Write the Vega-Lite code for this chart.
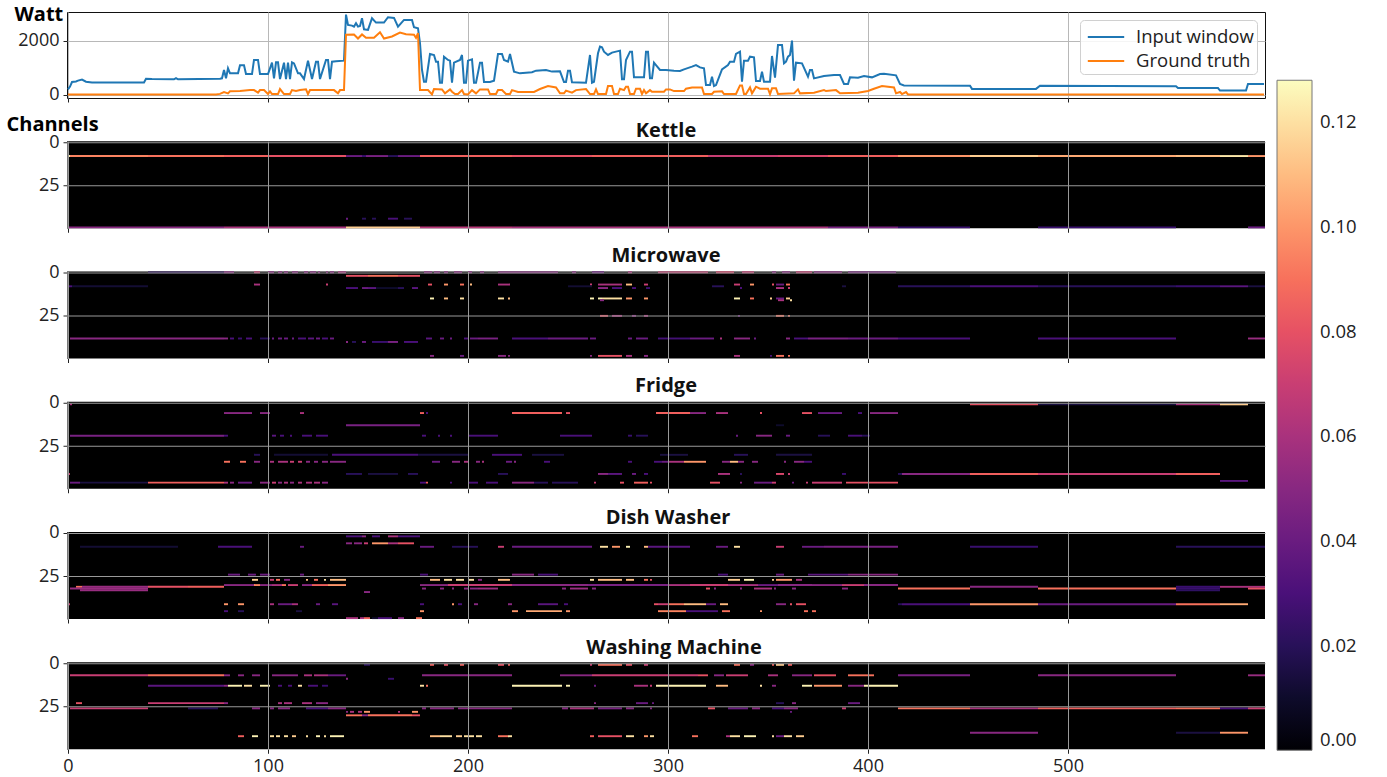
{"$schema":"https://vega.github.io/schema/vega-lite/v6.json","background":"white","padding":{"left":6,"top":3,"right":0,"bottom":24},"bounds":"flush","spacing":43.25,"config":{"font":"Open Sans","axis":{"labelFont":"Open Sans","labelFontSize":18,"labelColor":"#222","titleFont":"Open Sans","titleFontSize":20,"titleFontWeight":"bold","tickColor":"#222","tickSize":4,"labelPadding":4,"labelFlush":false,"format":"d"},"title":{"font":"Open Sans","fontSize":20,"fontWeight":"bold","color":"#111","offset":5},"legend":{"labelFont":"Open Sans","labelFontSize":18.5,"labelColor":"#222"}},"datasets":{"power":[
{"s":"Input window","x":0,"w":200},{"s":"Input window","x":1,"w":300},{"s":"Input window","x":2,"w":470},{"s":"Input window","x":4,"w":490},{"s":"Input window","x":5,"w":520},{"s":"Input window","x":7,"w":560},{"s":"Input window","x":9,"w":480},{"s":"Input window","x":12,"w":450},{"s":"Input window","x":38,"w":450},{"s":"Input window","x":39,"w":590},{"s":"Input window","x":42,"w":580},{"s":"Input window","x":53,"w":570},{"s":"Input window","x":54,"w":610},{"s":"Input window","x":55,"w":570},{"s":"Input window","x":76,"w":590},{"s":"Input window","x":77,"w":605},{"s":"Input window","x":78,"w":915},{"s":"Input window","x":79,"w":605},{"s":"Input window","x":80,"w":975},{"s":"Input window","x":81,"w":790},{"s":"Input window","x":85,"w":790},{"s":"Input window","x":86,"w":1087},{"s":"Input window","x":88,"w":1087},{"s":"Input window","x":89,"w":765},{"s":"Input window","x":92,"w":765},{"s":"Input window","x":93,"w":1285},{"s":"Input window","x":95,"w":1285},{"s":"Input window","x":96,"w":765},{"s":"Input window","x":100,"w":765},{"s":"Input window","x":102,"w":1185},{"s":"Input window","x":103,"w":605},{"s":"Input window","x":104,"w":1198},{"s":"Input window","x":105,"w":1198},{"s":"Input window","x":106,"w":580},{"s":"Input window","x":108,"w":1185},{"s":"Input window","x":109,"w":580},{"s":"Input window","x":110,"w":1185},{"s":"Input window","x":111,"w":580},{"s":"Input window","x":112,"w":1198},{"s":"Input window","x":113,"w":1160},{"s":"Input window","x":115,"w":790},{"s":"Input window","x":116,"w":790},{"s":"Input window","x":118,"w":580},{"s":"Input window","x":120,"w":1260},{"s":"Input window","x":122,"w":580},{"s":"Input window","x":124,"w":1222},{"s":"Input window","x":125,"w":1222},{"s":"Input window","x":126,"w":580},{"s":"Input window","x":129,"w":1285},{"s":"Input window","x":130,"w":1285},{"s":"Input window","x":131,"w":580},{"s":"Input window","x":132,"w":1222},{"s":"Input window","x":134,"w":1240},{"s":"Input window","x":138,"w":1260},{"s":"Input window","x":139,"w":2964},{"s":"Input window","x":140,"w":2580},{"s":"Input window","x":142,"w":2556},{"s":"Input window","x":143,"w":2520},{"s":"Input window","x":144,"w":2643},{"s":"Input window","x":145,"w":2520},{"s":"Input window","x":146,"w":2544},{"s":"Input window","x":147,"w":2828},{"s":"Input window","x":148,"w":2420},{"s":"Input window","x":150,"w":2396},{"s":"Input window","x":152,"w":2828},{"s":"Input window","x":154,"w":2668},{"s":"Input window","x":158,"w":2668},{"s":"Input window","x":160,"w":2865},{"s":"Input window","x":163,"w":2840},{"s":"Input window","x":165,"w":2520},{"s":"Input window","x":168,"w":2766},{"s":"Input window","x":172,"w":2766},{"s":"Input window","x":173,"w":2495},{"s":"Input window","x":175,"w":2458},{"s":"Input window","x":176,"w":1902},{"s":"Input window","x":177,"w":914},{"s":"Input window","x":178,"w":480},{"s":"Input window","x":179,"w":480},{"s":"Input window","x":181,"w":1507},{"s":"Input window","x":183,"w":1470},{"s":"Input window","x":184,"w":1222},{"s":"Input window","x":185,"w":1222},{"s":"Input window","x":186,"w":445},{"s":"Input window","x":187,"w":445},{"s":"Input window","x":188,"w":1408},{"s":"Input window","x":190,"w":1285},{"s":"Input window","x":191,"w":1260},{"s":"Input window","x":192,"w":445},{"s":"Input window","x":193,"w":1185},{"s":"Input window","x":196,"w":1285},{"s":"Input window","x":197,"w":1470},{"s":"Input window","x":198,"w":445},{"s":"Input window","x":199,"w":445},{"s":"Input window","x":200,"w":1260},{"s":"Input window","x":202,"w":1310},{"s":"Input window","x":203,"w":445},{"s":"Input window","x":204,"w":445},{"s":"Input window","x":206,"w":1185},{"s":"Input window","x":207,"w":1185},{"s":"Input window","x":208,"w":470},{"s":"Input window","x":211,"w":470},{"s":"Input window","x":213,"w":520},{"s":"Input window","x":215,"w":1507},{"s":"Input window","x":217,"w":1507},{"s":"Input window","x":218,"w":1285},{"s":"Input window","x":220,"w":1222},{"s":"Input window","x":221,"w":1507},{"s":"Input window","x":223,"w":855},{"s":"Input window","x":226,"w":790},{"s":"Input window","x":232,"w":830},{"s":"Input window","x":234,"w":890},{"s":"Input window","x":239,"w":914},{"s":"Input window","x":242,"w":855},{"s":"Input window","x":246,"w":865},{"s":"Input window","x":248,"w":470},{"s":"Input window","x":249,"w":470},{"s":"Input window","x":250,"w":890},{"s":"Input window","x":251,"w":890},{"s":"Input window","x":252,"w":457},{"s":"Input window","x":259,"w":445},{"s":"Input window","x":261,"w":1470},{"s":"Input window","x":262,"w":445},{"s":"Input window","x":263,"w":480},{"s":"Input window","x":265,"w":1532},{"s":"Input window","x":266,"w":1778},{"s":"Input window","x":267,"w":1753},{"s":"Input window","x":268,"w":1590},{"s":"Input window","x":270,"w":1470},{"s":"Input window","x":272,"w":1556},{"s":"Input window","x":274,"w":1593},{"s":"Input window","x":276,"w":1630},{"s":"Input window","x":277,"w":570},{"s":"Input window","x":278,"w":570},{"s":"Input window","x":279,"w":1285},{"s":"Input window","x":281,"w":1593},{"s":"Input window","x":282,"w":1593},{"s":"Input window","x":283,"w":642},{"s":"Input window","x":288,"w":642},{"s":"Input window","x":289,"w":1593},{"s":"Input window","x":290,"w":1593},{"s":"Input window","x":291,"w":605},{"s":"Input window","x":292,"w":605},{"s":"Input window","x":293,"w":1185},{"s":"Input window","x":294,"w":1098},{"s":"Input window","x":296,"w":914},{"s":"Input window","x":299,"w":914},{"s":"Input window","x":303,"w":890},{"s":"Input window","x":306,"w":878},{"s":"Input window","x":308,"w":938},{"s":"Input window","x":312,"w":1037},{"s":"Input window","x":314,"w":1098},{"s":"Input window","x":316,"w":1012},{"s":"Input window","x":318,"w":975},{"s":"Input window","x":319,"w":358},{"s":"Input window","x":321,"w":358},{"s":"Input window","x":322,"w":667},{"s":"Input window","x":323,"w":320},{"s":"Input window","x":324,"w":358},{"s":"Input window","x":327,"w":938},{"s":"Input window","x":330,"w":1098},{"s":"Input window","x":331,"w":1222},{"s":"Input window","x":333,"w":1222},{"s":"Input window","x":334,"w":1507},{"s":"Input window","x":336,"w":1593},{"s":"Input window","x":337,"w":482},{"s":"Input window","x":338,"w":1260},{"s":"Input window","x":340,"w":1260},{"s":"Input window","x":341,"w":1408},{"s":"Input window","x":343,"w":1383},{"s":"Input window","x":344,"w":507},{"s":"Input window","x":346,"w":507},{"s":"Input window","x":347,"w":852},{"s":"Input window","x":348,"w":482},{"s":"Input window","x":351,"w":482},{"s":"Input window","x":352,"w":1432},{"s":"Input window","x":353.5,"w":630},{"s":"Input window","x":355,"w":1840},{"s":"Input window","x":357,"w":1840},{"s":"Input window","x":358,"w":1160},{"s":"Input window","x":359,"w":1222},{"s":"Input window","x":360,"w":1408},{"s":"Input window","x":361,"w":1470},{"s":"Input window","x":362,"w":2000},{"s":"Input window","x":363,"w":520},{"s":"Input window","x":364,"w":1185},{"s":"Input window","x":367,"w":1160},{"s":"Input window","x":370,"w":667},{"s":"Input window","x":371,"w":914},{"s":"Input window","x":372,"w":914},{"s":"Input window","x":373,"w":605},{"s":"Input window","x":378,"w":692},{"s":"Input window","x":383,"w":730},{"s":"Input window","x":386,"w":730},{"s":"Input window","x":388,"w":395},{"s":"Input window","x":390,"w":395},{"s":"Input window","x":391,"w":642},{"s":"Input window","x":395,"w":630},{"s":"Input window","x":398,"w":692},{"s":"Input window","x":402,"w":642},{"s":"Input window","x":406,"w":765},{"s":"Input window","x":408,"w":778},{"s":"Input window","x":414,"w":716},{"s":"Input window","x":416,"w":395},{"s":"Input window","x":418,"w":345},{"s":"Input window","x":451,"w":335},{"s":"Input window","x":452,"w":215},{"s":"Input window","x":484,"w":215},{"s":"Input window","x":486,"w":330},{"s":"Input window","x":554,"w":315},{"s":"Input window","x":555,"w":245},{"s":"Input window","x":575,"w":245},{"s":"Input window","x":576,"w":155},{"s":"Input window","x":589,"w":155},{"s":"Input window","x":590,"w":400},{"s":"Input window","x":598,"w":400},
{"s":"Ground truth","x":0,"w":10},{"s":"Ground truth","x":74,"w":10},{"s":"Ground truth","x":76,"w":30},{"s":"Ground truth","x":78,"w":95},{"s":"Ground truth","x":80,"w":50},{"s":"Ground truth","x":81,"w":125},{"s":"Ground truth","x":86,"w":135},{"s":"Ground truth","x":91,"w":170},{"s":"Ground truth","x":93,"w":170},{"s":"Ground truth","x":95,"w":75},{"s":"Ground truth","x":96,"w":170},{"s":"Ground truth","x":98,"w":170},{"s":"Ground truth","x":100,"w":25},{"s":"Ground truth","x":101,"w":125},{"s":"Ground truth","x":102,"w":25},{"s":"Ground truth","x":105,"w":25},{"s":"Ground truth","x":106,"w":210},{"s":"Ground truth","x":108,"w":25},{"s":"Ground truth","x":111,"w":25},{"s":"Ground truth","x":112,"w":170},{"s":"Ground truth","x":114,"w":135},{"s":"Ground truth","x":116,"w":170},{"s":"Ground truth","x":119,"w":197},{"s":"Ground truth","x":120,"w":25},{"s":"Ground truth","x":121,"w":170},{"s":"Ground truth","x":133,"w":170},{"s":"Ground truth","x":135,"w":50},{"s":"Ground truth","x":136,"w":170},{"s":"Ground truth","x":138,"w":170},{"s":"Ground truth","x":139,"w":2217},{"s":"Ground truth","x":143,"w":2230},{"s":"Ground truth","x":145,"w":2080},{"s":"Ground truth","x":147,"w":2230},{"s":"Ground truth","x":149,"w":2105},{"s":"Ground truth","x":153,"w":2105},{"s":"Ground truth","x":156,"w":2310},{"s":"Ground truth","x":158,"w":2080},{"s":"Ground truth","x":162,"w":2155},{"s":"Ground truth","x":166,"w":2300},{"s":"Ground truth","x":169,"w":2240},{"s":"Ground truth","x":173,"w":2217},{"s":"Ground truth","x":174,"w":2100},{"s":"Ground truth","x":175,"w":2280},{"s":"Ground truth","x":176,"w":170},{"s":"Ground truth","x":180,"w":170},{"s":"Ground truth","x":182,"w":10},{"s":"Ground truth","x":183,"w":210},{"s":"Ground truth","x":187,"w":197},{"s":"Ground truth","x":188.5,"w":50},{"s":"Ground truth","x":191,"w":197},{"s":"Ground truth","x":192,"w":110},{"s":"Ground truth","x":193.5,"w":25},{"s":"Ground truth","x":195,"w":25},{"s":"Ground truth","x":197,"w":170},{"s":"Ground truth","x":198,"w":25},{"s":"Ground truth","x":200,"w":10},{"s":"Ground truth","x":202,"w":170},{"s":"Ground truth","x":204,"w":50},{"s":"Ground truth","x":206,"w":197},{"s":"Ground truth","x":210,"w":197},{"s":"Ground truth","x":211,"w":25},{"s":"Ground truth","x":214,"w":25},{"s":"Ground truth","x":215,"w":170},{"s":"Ground truth","x":217,"w":170},{"s":"Ground truth","x":219,"w":25},{"s":"Ground truth","x":221,"w":25},{"s":"Ground truth","x":222,"w":170},{"s":"Ground truth","x":225,"w":100},{"s":"Ground truth","x":233,"w":100},{"s":"Ground truth","x":236,"w":210},{"s":"Ground truth","x":240,"w":320},{"s":"Ground truth","x":244,"w":270},{"s":"Ground truth","x":246,"w":50},{"s":"Ground truth","x":248,"w":50},{"s":"Ground truth","x":249,"w":150},{"s":"Ground truth","x":252,"w":75},{"s":"Ground truth","x":254,"w":170},{"s":"Ground truth","x":259,"w":210},{"s":"Ground truth","x":261,"w":25},{"s":"Ground truth","x":263,"w":25},{"s":"Ground truth","x":264,"w":197},{"s":"Ground truth","x":265,"w":25},{"s":"Ground truth","x":269,"w":25},{"s":"Ground truth","x":270,"w":320},{"s":"Ground truth","x":272,"w":320},{"s":"Ground truth","x":273,"w":25},{"s":"Ground truth","x":275,"w":25},{"s":"Ground truth","x":276,"w":222},{"s":"Ground truth","x":278,"w":170},{"s":"Ground truth","x":279,"w":296},{"s":"Ground truth","x":280,"w":296},{"s":"Ground truth","x":281,"w":25},{"s":"Ground truth","x":283,"w":25},{"s":"Ground truth","x":284,"w":222},{"s":"Ground truth","x":286,"w":222},{"s":"Ground truth","x":287,"w":25},{"s":"Ground truth","x":288,"w":170},{"s":"Ground truth","x":289,"w":50},{"s":"Ground truth","x":291,"w":170},{"s":"Ground truth","x":292,"w":110},{"s":"Ground truth","x":298,"w":110},{"s":"Ground truth","x":299,"w":197},{"s":"Ground truth","x":301,"w":197},{"s":"Ground truth","x":303,"w":135},{"s":"Ground truth","x":308,"w":135},{"s":"Ground truth","x":309,"w":222},{"s":"Ground truth","x":312,"w":270},{"s":"Ground truth","x":317,"w":270},{"s":"Ground truth","x":318,"w":25},{"s":"Ground truth","x":322,"w":25},{"s":"Ground truth","x":323,"w":110},{"s":"Ground truth","x":327,"w":125},{"s":"Ground truth","x":328,"w":25},{"s":"Ground truth","x":334,"w":25},{"s":"Ground truth","x":336,"w":345},{"s":"Ground truth","x":337,"w":345},{"s":"Ground truth","x":338,"w":25},{"s":"Ground truth","x":339,"w":25},{"s":"Ground truth","x":341,"w":270},{"s":"Ground truth","x":342,"w":50},{"s":"Ground truth","x":343,"w":170},{"s":"Ground truth","x":344,"w":296},{"s":"Ground truth","x":346,"w":222},{"s":"Ground truth","x":350,"w":222},{"s":"Ground truth","x":351,"w":25},{"s":"Ground truth","x":352,"w":235},{"s":"Ground truth","x":354,"w":235},{"s":"Ground truth","x":355,"w":25},{"s":"Ground truth","x":363,"w":50},{"s":"Ground truth","x":365,"w":197},{"s":"Ground truth","x":366,"w":50},{"s":"Ground truth","x":373,"w":75},{"s":"Ground truth","x":378,"w":170},{"s":"Ground truth","x":379,"w":135},{"s":"Ground truth","x":384,"w":170},{"s":"Ground truth","x":386,"w":50},{"s":"Ground truth","x":395,"w":75},{"s":"Ground truth","x":400,"w":135},{"s":"Ground truth","x":403,"w":222},{"s":"Ground truth","x":407,"w":320},{"s":"Ground truth","x":413,"w":270},{"s":"Ground truth","x":414,"w":50},{"s":"Ground truth","x":416,"w":100},{"s":"Ground truth","x":417,"w":25},{"s":"Ground truth","x":419,"w":100},{"s":"Ground truth","x":420,"w":10},{"s":"Ground truth","x":598,"w":10}],
"kettle":[{"c":8,"a":0,"b":1,"v":0.122},{"c":8,"a":1,"b":40,"v":0.095},{"c":8,"a":40,"b":78,"v":0.09},{"c":8,"a":78,"b":100,"v":0.085},{"c":8,"a":100,"b":139,"v":0.08},{"c":8,"a":139,"b":147,"v":0.04},{"c":8,"a":147,"b":149,"v":0.025},{"c":8,"a":149,"b":160,"v":0.045},{"c":8,"a":160,"b":165,"v":0.02},{"c":8,"a":165,"b":176,"v":0.04},{"c":8,"a":176,"b":222,"v":0.085},{"c":8,"a":222,"b":262,"v":0.08},{"c":8,"a":262,"b":320,"v":0.085},{"c":8,"a":320,"b":355,"v":0.07},{"c":8,"a":355,"b":380,"v":0.075},{"c":8,"a":380,"b":415,"v":0.085},{"c":8,"a":415,"b":451,"v":0.1},{"c":8,"a":451,"b":485,"v":0.115},{"c":8,"a":485,"b":554,"v":0.105},{"c":8,"a":554,"b":576,"v":0.11},{"c":8,"a":576,"b":590,"v":0.122},{"c":8,"a":590,"b":598.5,"v":0.1},{"c":49,"a":0,"b":78,"v":0.05},{"c":49,"a":78,"b":139,"v":0.06},{"c":49,"a":139,"b":176,"v":0.115},{"c":49,"a":176,"b":222,"v":0.065},{"c":49,"a":222,"b":380,"v":0.06},{"c":49,"a":380,"b":415,"v":0.045},{"c":49,"a":415,"b":451,"v":0.025},{"c":49,"a":485,"b":554,"v":0.025},{"c":49,"a":590,"b":598.5,"v":0.04},{"c":44,"a":139,"b":140,"v":0.04},{"c":44,"a":147,"b":149,"v":0.02},{"c":44,"a":152,"b":154,"v":0.02},{"c":44,"a":160,"b":165,"v":0.03},{"c":44,"a":168,"b":172,"v":0.02}],
"microwave":[{"c":0,"a":40,"b":78,"v":0.02},{"c":0,"a":78,"b":83,"v":0.05},{"c":0,"a":93,"b":96,"v":0.07},{"c":0,"a":100,"b":103,"v":0.05},{"c":0,"a":105,"b":107,"v":0.05},{"c":0,"a":108,"b":110,"v":0.05},{"c":0,"a":112,"b":115,"v":0.05},{"c":0,"a":118,"b":120,"v":0.05},{"c":0,"a":121,"b":124,"v":0.05},{"c":0,"a":125,"b":126,"v":0.05},{"c":0,"a":129,"b":130,"v":0.05},{"c":0,"a":131,"b":133,"v":0.05},{"c":0,"a":135,"b":139,"v":0.06},{"c":0,"a":178,"b":182,"v":0.05},{"c":0,"a":183,"b":186,"v":0.05},{"c":0,"a":188,"b":190,"v":0.05},{"c":0,"a":193,"b":197,"v":0.05},{"c":0,"a":200,"b":202,"v":0.05},{"c":0,"a":206,"b":208,"v":0.05},{"c":0,"a":215,"b":245,"v":0.05},{"c":0,"a":252,"b":254,"v":0.05},{"c":0,"a":262,"b":268,"v":0.04},{"c":0,"a":280,"b":282,"v":0.06},{"c":0,"a":295,"b":320,"v":0.07},{"c":0,"a":324,"b":333,"v":0.075},{"c":0,"a":337,"b":343,"v":0.07},{"c":0,"a":352,"b":354,"v":0.05},{"c":0,"a":357,"b":361,"v":0.05},{"c":0,"a":364,"b":372,"v":0.07},{"c":0,"a":373,"b":387,"v":0.05},{"c":0,"a":390,"b":414,"v":0.045},{"c":2,"a":139,"b":150,"v":0.08},{"c":2,"a":150,"b":165,"v":0.09},{"c":2,"a":165,"b":176,"v":0.08},{"c":7,"a":93,"b":96,"v":0.06},{"c":7,"a":129,"b":130,"v":0.07},{"c":7,"a":180,"b":182,"v":0.08},{"c":7,"a":188,"b":190,"v":0.1},{"c":7,"a":196,"b":198,"v":0.09},{"c":7,"a":201,"b":202,"v":0.11},{"c":7,"a":215,"b":221,"v":0.06},{"c":7,"a":261,"b":262,"v":0.07},{"c":7,"a":265,"b":277,"v":0.06},{"c":7,"a":279,"b":282,"v":0.11},{"c":7,"a":288,"b":290,"v":0.07},{"c":7,"a":333,"b":336,"v":0.07},{"c":7,"a":341,"b":343,"v":0.1},{"c":7,"a":352,"b":353,"v":0.08},{"c":7,"a":354,"b":358,"v":0.04},{"c":7,"a":359,"b":361,"v":0.09},{"c":8,"a":0,"b":2,"v":0.03},{"c":8,"a":2,"b":40,"v":0.012},{"c":8,"a":250,"b":262,"v":0.012},{"c":8,"a":322,"b":328,"v":0.02},{"c":8,"a":387,"b":389,"v":0.015},{"c":8,"a":415,"b":451,"v":0.02},{"c":8,"a":451,"b":485,"v":0.03},{"c":8,"a":485,"b":554,"v":0.02},{"c":8,"a":554,"b":576,"v":0.025},{"c":8,"a":576,"b":590,"v":0.035},{"c":8,"a":590,"b":598.5,"v":0.015},{"c":9,"a":139,"b":145,"v":0.03},{"c":9,"a":147,"b":150,"v":0.04},{"c":9,"a":150,"b":154,"v":0.035},{"c":9,"a":154,"b":165,"v":0.01},{"c":9,"a":165,"b":168,"v":0.02},{"c":9,"a":172,"b":175,"v":0.035},{"c":9,"a":265,"b":270,"v":0.05},{"c":9,"a":272,"b":277,"v":0.03},{"c":9,"a":282,"b":284,"v":0.03},{"c":9,"a":289,"b":291,"v":0.025},{"c":9,"a":336,"b":337,"v":0.03},{"c":9,"a":354,"b":358,"v":0.06},{"c":9,"a":360,"b":361,"v":0.07},{"c":15,"a":181,"b":183,"v":0.125},{"c":15,"a":188,"b":190,"v":0.11},{"c":15,"a":196,"b":198,"v":0.12},{"c":15,"a":215,"b":218,"v":0.12},{"c":15,"a":220,"b":221,"v":0.11},{"c":15,"a":261,"b":263,"v":0.125},{"c":15,"a":265,"b":267,"v":0.125},{"c":15,"a":267,"b":277,"v":0.12},{"c":15,"a":279,"b":282,"v":0.1},{"c":15,"a":288,"b":290,"v":0.1},{"c":15,"a":333,"b":336,"v":0.125},{"c":15,"a":341,"b":343,"v":0.09},{"c":15,"a":351,"b":352,"v":0.115},{"c":15,"a":354,"b":358,"v":0.04},{"c":15,"a":359,"b":361,"v":0.115},{"c":16,"a":266,"b":268,"v":0.05},{"c":16,"a":355,"b":358,"v":0.06},{"c":16,"a":361,"b":362,"v":0.12},{"c":25,"a":266,"b":270,"v":0.08},{"c":25,"a":272,"b":277,"v":0.06},{"c":25,"a":282,"b":284,"v":0.05},{"c":25,"a":288,"b":290,"v":0.06},{"c":25,"a":335,"b":336,"v":0.04},{"c":25,"a":354,"b":358,"v":0.09},{"c":25,"a":360,"b":361,"v":0.09},{"c":38,"a":1,"b":78,"v":0.05},{"c":38,"a":78,"b":80,"v":0.05},{"c":38,"a":81,"b":83,"v":0.03},{"c":38,"a":85,"b":87,"v":0.025},{"c":38,"a":89,"b":92,"v":0.03},{"c":38,"a":96,"b":101,"v":0.02},{"c":38,"a":102,"b":103,"v":0.04},{"c":38,"a":105,"b":107,"v":0.04},{"c":38,"a":108,"b":110,"v":0.04},{"c":38,"a":112,"b":113,"v":0.04},{"c":38,"a":115,"b":119,"v":0.03},{"c":38,"a":120,"b":123,"v":0.035},{"c":38,"a":124,"b":126,"v":0.04},{"c":38,"a":127,"b":130,"v":0.03},{"c":38,"a":131,"b":133,"v":0.04},{"c":38,"a":179,"b":182,"v":0.035},{"c":38,"a":186,"b":188,"v":0.04},{"c":38,"a":191,"b":192,"v":0.04},{"c":38,"a":198,"b":200,"v":0.03},{"c":38,"a":201,"b":205,"v":0.04},{"c":38,"a":205,"b":215,"v":0.045},{"c":38,"a":222,"b":240,"v":0.03},{"c":38,"a":240,"b":260,"v":0.04},{"c":38,"a":261,"b":264,"v":0.04},{"c":38,"a":280,"b":282,"v":0.04},{"c":38,"a":284,"b":290,"v":0.04},{"c":38,"a":295,"b":311,"v":0.028},{"c":38,"a":311,"b":323,"v":0.04},{"c":38,"a":326,"b":327,"v":0.06},{"c":38,"a":333,"b":341,"v":0.05},{"c":38,"a":343,"b":344,"v":0.04},{"c":38,"a":359,"b":361,"v":0.05},{"c":38,"a":363,"b":370,"v":0.03},{"c":38,"a":370,"b":390,"v":0.045},{"c":38,"a":390,"b":415,"v":0.04},{"c":38,"a":415,"b":451,"v":0.03},{"c":38,"a":485,"b":554,"v":0.03},{"c":38,"a":590,"b":598.5,"v":0.055},{"c":40,"a":139,"b":140,"v":0.05},{"c":40,"a":142,"b":144,"v":0.02},{"c":40,"a":147,"b":149,"v":0.04},{"c":40,"a":152,"b":160,"v":0.025},{"c":40,"a":160,"b":165,"v":0.045},{"c":40,"a":168,"b":175,"v":0.03},{"c":48,"a":181,"b":183,"v":0.05},{"c":48,"a":196,"b":198,"v":0.04},{"c":48,"a":215,"b":219,"v":0.05},{"c":48,"a":220,"b":221,"v":0.05},{"c":48,"a":261,"b":262,"v":0.05},{"c":48,"a":265,"b":277,"v":0.08},{"c":48,"a":279,"b":282,"v":0.06},{"c":48,"a":288,"b":290,"v":0.05},{"c":48,"a":333,"b":336,"v":0.06},{"c":48,"a":351,"b":352,"v":0.03},{"c":48,"a":354,"b":358,"v":0.09},{"c":48,"a":360,"b":361,"v":0.09}],
"fridge":[{"c":1,"a":1,"b":2,"v":0.06},{"c":1,"a":451,"b":485,"v":0.08},{"c":1,"a":485,"b":554,"v":0.015},{"c":1,"a":554,"b":576,"v":0.06},{"c":1,"a":576,"b":590,"v":0.115},{"c":6,"a":78,"b":80,"v":0.05},{"c":6,"a":80,"b":92,"v":0.05},{"c":6,"a":96,"b":101,"v":0.05},{"c":6,"a":116,"b":118,"v":0.06},{"c":6,"a":176,"b":178,"v":0.085},{"c":6,"a":179,"b":180,"v":0.03},{"c":6,"a":222,"b":247,"v":0.085},{"c":6,"a":249,"b":251,"v":0.08},{"c":6,"a":294,"b":311,"v":0.085},{"c":6,"a":311,"b":319,"v":0.05},{"c":6,"a":324,"b":330,"v":0.06},{"c":6,"a":346,"b":347,"v":0.08},{"c":6,"a":367,"b":372,"v":0.08},{"c":6,"a":375,"b":387,"v":0.04},{"c":6,"a":395,"b":397,"v":0.03},{"c":6,"a":401,"b":415,"v":0.05},{"c":13,"a":139,"b":176,"v":0.045},{"c":13,"a":354,"b":358,"v":0.01},{"c":19,"a":1,"b":78,"v":0.045},{"c":19,"a":78,"b":80,"v":0.03},{"c":19,"a":102,"b":104,"v":0.035},{"c":19,"a":106,"b":108,"v":0.03},{"c":19,"a":111,"b":112,"v":0.03},{"c":19,"a":117,"b":122,"v":0.03},{"c":19,"a":124,"b":130,"v":0.03},{"c":19,"a":177,"b":179,"v":0.03},{"c":19,"a":185,"b":186,"v":0.03},{"c":19,"a":191,"b":192,"v":0.03},{"c":19,"a":200,"b":205,"v":0.03},{"c":19,"a":205,"b":215,"v":0.03},{"c":19,"a":246,"b":262,"v":0.03},{"c":19,"a":280,"b":282,"v":0.025},{"c":19,"a":284,"b":290,"v":0.02},{"c":19,"a":334,"b":335,"v":0.04},{"c":19,"a":344,"b":352,"v":0.05},{"c":19,"a":359,"b":361,"v":0.04},{"c":19,"a":375,"b":381,"v":0.02},{"c":19,"a":390,"b":397,"v":0.03},{"c":19,"a":397,"b":401,"v":0.02},{"c":30,"a":93,"b":96,"v":0.02},{"c":30,"a":103,"b":130,"v":0.012},{"c":30,"a":132,"b":175,"v":0.03},{"c":30,"a":175,"b":200,"v":0.015},{"c":30,"a":212,"b":227,"v":0.03},{"c":30,"a":232,"b":248,"v":0.015},{"c":30,"a":296,"b":310,"v":0.015},{"c":30,"a":333,"b":340,"v":0.02},{"c":30,"a":354,"b":372,"v":0.015},{"c":34,"a":78,"b":80,"v":0.09},{"c":34,"a":80,"b":81,"v":0.09},{"c":34,"a":86,"b":89,"v":0.09},{"c":34,"a":93,"b":96,"v":0.05},{"c":34,"a":101,"b":103,"v":0.06},{"c":34,"a":105,"b":110,"v":0.06},{"c":34,"a":111,"b":113,"v":0.07},{"c":34,"a":115,"b":117,"v":0.07},{"c":34,"a":119,"b":121,"v":0.05},{"c":34,"a":123,"b":125,"v":0.05},{"c":34,"a":127,"b":130,"v":0.05},{"c":34,"a":131,"b":139,"v":0.05},{"c":34,"a":182,"b":186,"v":0.04},{"c":34,"a":192,"b":196,"v":0.05},{"c":34,"a":198,"b":200,"v":0.06},{"c":34,"a":204,"b":206,"v":0.05},{"c":34,"a":207,"b":208,"v":0.06},{"c":34,"a":219,"b":222,"v":0.04},{"c":34,"a":223,"b":224,"v":0.05},{"c":34,"a":238,"b":241,"v":0.03},{"c":34,"a":280,"b":282,"v":0.03},{"c":34,"a":293,"b":297,"v":0.03},{"c":34,"a":297,"b":300,"v":0.04},{"c":34,"a":300,"b":308,"v":0.06},{"c":34,"a":308,"b":319,"v":0.1},{"c":34,"a":327,"b":331,"v":0.05},{"c":34,"a":331,"b":335,"v":0.11},{"c":34,"a":335,"b":338,"v":0.05},{"c":34,"a":342,"b":345,"v":0.05},{"c":34,"a":358,"b":359,"v":0.05},{"c":34,"a":363,"b":368,"v":0.05},{"c":34,"a":368,"b":372,"v":0.03},{"c":41,"a":0,"b":1,"v":0.07},{"c":41,"a":139,"b":147,"v":0.02},{"c":41,"a":150,"b":165,"v":0.015},{"c":41,"a":170,"b":175,"v":0.02},{"c":41,"a":215,"b":220,"v":0.02},{"c":41,"a":265,"b":270,"v":0.05},{"c":41,"a":270,"b":277,"v":0.035},{"c":41,"a":282,"b":284,"v":0.04},{"c":41,"a":288,"b":290,"v":0.03},{"c":41,"a":325,"b":331,"v":0.06},{"c":41,"a":336,"b":337,"v":0.02},{"c":41,"a":354,"b":358,"v":0.075},{"c":41,"a":360,"b":361,"v":0.07},{"c":41,"a":387,"b":389,"v":0.025},{"c":41,"a":415,"b":417,"v":0.02},{"c":41,"a":417,"b":451,"v":0.05},{"c":41,"a":451,"b":485,"v":0.085},{"c":41,"a":485,"b":554,"v":0.07},{"c":41,"a":554,"b":576,"v":0.085},{"c":45,"a":576,"b":590,"v":0.035},{"c":46,"a":1,"b":6,"v":0.04},{"c":46,"a":6,"b":40,"v":0.015},{"c":46,"a":40,"b":78,"v":0.085},{"c":46,"a":78,"b":80,"v":0.06},{"c":46,"a":81,"b":83,"v":0.05},{"c":46,"a":85,"b":92,"v":0.04},{"c":46,"a":96,"b":101,"v":0.05},{"c":46,"a":102,"b":104,"v":0.07},{"c":46,"a":105,"b":107,"v":0.05},{"c":46,"a":108,"b":110,"v":0.06},{"c":46,"a":111,"b":113,"v":0.05},{"c":46,"a":115,"b":117,"v":0.06},{"c":46,"a":119,"b":122,"v":0.06},{"c":46,"a":123,"b":126,"v":0.06},{"c":46,"a":127,"b":130,"v":0.05},{"c":46,"a":176,"b":179,"v":0.03},{"c":46,"a":179,"b":180,"v":0.085},{"c":46,"a":191,"b":192,"v":0.03},{"c":46,"a":200,"b":205,"v":0.03},{"c":46,"a":209,"b":215,"v":0.03},{"c":46,"a":222,"b":233,"v":0.05},{"c":46,"a":233,"b":240,"v":0.02},{"c":46,"a":242,"b":255,"v":0.02},{"c":46,"a":263,"b":264,"v":0.07},{"c":46,"a":276,"b":278,"v":0.08},{"c":46,"a":283,"b":290,"v":0.085},{"c":46,"a":291,"b":292,"v":0.08},{"c":46,"a":321,"b":326,"v":0.08},{"c":46,"a":336,"b":337,"v":0.05},{"c":46,"a":343,"b":352,"v":0.04},{"c":46,"a":352,"b":354,"v":0.07},{"c":46,"a":362,"b":363,"v":0.04},{"c":46,"a":369,"b":370,"v":0.07},{"c":46,"a":372,"b":387,"v":0.07},{"c":46,"a":389,"b":415,"v":0.08}],
"dish":[{"c":2,"a":139,"b":147,"v":0.03},{"c":2,"a":147,"b":149,"v":0.05},{"c":2,"a":152,"b":156,"v":0.03},{"c":2,"a":160,"b":165,"v":0.06},{"c":2,"a":165,"b":176,"v":0.03},{"c":6,"a":139,"b":142,"v":0.05},{"c":6,"a":143,"b":147,"v":0.05},{"c":6,"a":148,"b":150,"v":0.07},{"c":6,"a":152,"b":160,"v":0.1},{"c":6,"a":160,"b":165,"v":0.06},{"c":6,"a":165,"b":173,"v":0.08},{"c":8,"a":6,"b":55,"v":0.012},{"c":8,"a":75,"b":92,"v":0.03},{"c":8,"a":116,"b":118,"v":0.04},{"c":8,"a":176,"b":183,"v":0.04},{"c":8,"a":192,"b":205,"v":0.02},{"c":8,"a":215,"b":218,"v":0.07},{"c":8,"a":222,"b":262,"v":0.04},{"c":8,"a":266,"b":270,"v":0.12},{"c":8,"a":272,"b":276,"v":0.1},{"c":8,"a":279,"b":281,"v":0.125},{"c":8,"a":288,"b":290,"v":0.11},{"c":8,"a":290,"b":311,"v":0.035},{"c":8,"a":324,"b":330,"v":0.04},{"c":8,"a":333,"b":336,"v":0.12},{"c":8,"a":354,"b":358,"v":0.07},{"c":8,"a":367,"b":378,"v":0.04},{"c":8,"a":378,"b":415,"v":0.045},{"c":8,"a":451,"b":485,"v":0.025},{"c":8,"a":554,"b":598.5,"v":0.02},{"c":24,"a":80,"b":86,"v":0.04},{"c":24,"a":90,"b":94,"v":0.04},{"c":24,"a":96,"b":101,"v":0.04},{"c":24,"a":116,"b":118,"v":0.04},{"c":24,"a":176,"b":180,"v":0.03},{"c":24,"a":222,"b":233,"v":0.05},{"c":24,"a":235,"b":245,"v":0.03},{"c":24,"a":325,"b":330,"v":0.03},{"c":24,"a":354,"b":358,"v":0.04},{"c":24,"a":370,"b":390,"v":0.035},{"c":24,"a":390,"b":415,"v":0.05},{"c":27,"a":92,"b":95,"v":0.115},{"c":27,"a":101,"b":103,"v":0.07},{"c":27,"a":104,"b":106,"v":0.09},{"c":27,"a":108,"b":111,"v":0.05},{"c":27,"a":119,"b":120,"v":0.11},{"c":27,"a":123,"b":125,"v":0.09},{"c":27,"a":128,"b":129,"v":0.12},{"c":27,"a":131,"b":139,"v":0.11},{"c":27,"a":181,"b":186,"v":0.11},{"c":27,"a":188,"b":192,"v":0.12},{"c":27,"a":194,"b":198,"v":0.12},{"c":27,"a":200,"b":203,"v":0.12},{"c":27,"a":205,"b":207,"v":0.05},{"c":27,"a":215,"b":221,"v":0.11},{"c":27,"a":261,"b":263,"v":0.12},{"c":27,"a":265,"b":277,"v":0.11},{"c":27,"a":279,"b":283,"v":0.11},{"c":27,"a":288,"b":290,"v":0.09},{"c":27,"a":291,"b":292,"v":0.08},{"c":27,"a":330,"b":336,"v":0.115},{"c":27,"a":338,"b":343,"v":0.125},{"c":27,"a":352,"b":353,"v":0.115},{"c":27,"a":354,"b":362,"v":0.1},{"c":27,"a":364,"b":367,"v":0.06},{"c":30,"a":78,"b":93,"v":0.05},{"c":30,"a":93,"b":96,"v":0.095},{"c":30,"a":96,"b":102,"v":0.05},{"c":30,"a":102,"b":107,"v":0.06},{"c":30,"a":107,"b":109,"v":0.09},{"c":30,"a":110,"b":115,"v":0.07},{"c":30,"a":117,"b":122,"v":0.05},{"c":30,"a":122,"b":130,"v":0.085},{"c":30,"a":130,"b":139,"v":0.1},{"c":30,"a":176,"b":190,"v":0.05},{"c":30,"a":190,"b":222,"v":0.07},{"c":30,"a":222,"b":260,"v":0.05},{"c":30,"a":260,"b":300,"v":0.045},{"c":30,"a":300,"b":311,"v":0.06},{"c":30,"a":311,"b":330,"v":0.07},{"c":30,"a":330,"b":345,"v":0.06},{"c":30,"a":345,"b":355,"v":0.04},{"c":30,"a":355,"b":372,"v":0.05},{"c":30,"a":372,"b":387,"v":0.05},{"c":30,"a":387,"b":398,"v":0.07},{"c":30,"a":398,"b":415,"v":0.05},{"c":31,"a":4,"b":7,"v":0.09},{"c":31,"a":7,"b":40,"v":0.055},{"c":31,"a":40,"b":60,"v":0.08},{"c":31,"a":60,"b":78,"v":0.085},{"c":31,"a":451,"b":485,"v":0.05},{"c":31,"a":554,"b":576,"v":0.025},{"c":31,"a":576,"b":590,"v":0.06},{"c":31,"a":590,"b":598.5,"v":0.06},{"c":32,"a":1,"b":40,"v":0.055},{"c":32,"a":177,"b":179,"v":0.05},{"c":32,"a":186,"b":188,"v":0.05},{"c":32,"a":192,"b":193,"v":0.05},{"c":32,"a":198,"b":200,"v":0.05},{"c":32,"a":201,"b":205,"v":0.05},{"c":32,"a":205,"b":215,"v":0.055},{"c":32,"a":247,"b":249,"v":0.05},{"c":32,"a":251,"b":260,"v":0.055},{"c":32,"a":262,"b":264,"v":0.05},{"c":32,"a":319,"b":321,"v":0.08},{"c":32,"a":323,"b":324,"v":0.05},{"c":32,"a":336,"b":337,"v":0.05},{"c":32,"a":343,"b":352,"v":0.06},{"c":32,"a":353,"b":354,"v":0.05},{"c":32,"a":362,"b":364,"v":0.05},{"c":32,"a":387,"b":390,"v":0.05},{"c":32,"a":415,"b":451,"v":0.09},{"c":32,"a":485,"b":554,"v":0.09},{"c":32,"a":554,"b":576,"v":0.025},{"c":32,"a":590,"b":598.5,"v":0.08},{"c":33,"a":6,"b":40,"v":0.055},{"c":33,"a":554,"b":576,"v":0.022},{"c":34,"a":148,"b":151,"v":0.05},{"c":41,"a":0,"b":1,"v":0.07},{"c":41,"a":78,"b":80,"v":0.1},{"c":41,"a":85,"b":88,"v":0.1},{"c":41,"a":101,"b":103,"v":0.06},{"c":41,"a":105,"b":112,"v":0.04},{"c":41,"a":112,"b":115,"v":0.06},{"c":41,"a":124,"b":126,"v":0.04},{"c":41,"a":132,"b":135,"v":0.035},{"c":41,"a":176,"b":178,"v":0.03},{"c":41,"a":192,"b":193,"v":0.1},{"c":41,"a":195,"b":197,"v":0.03},{"c":41,"a":203,"b":205,"v":0.05},{"c":41,"a":220,"b":222,"v":0.05},{"c":41,"a":235,"b":245,"v":0.035},{"c":41,"a":248,"b":250,"v":0.03},{"c":41,"a":293,"b":295,"v":0.08},{"c":41,"a":295,"b":300,"v":0.07},{"c":41,"a":300,"b":308,"v":0.09},{"c":41,"a":308,"b":319,"v":0.11},{"c":41,"a":319,"b":324,"v":0.04},{"c":41,"a":326,"b":330,"v":0.11},{"c":41,"a":354,"b":359,"v":0.05},{"c":41,"a":361,"b":362,"v":0.08},{"c":41,"a":364,"b":369,"v":0.08},{"c":41,"a":415,"b":417,"v":0.02},{"c":41,"a":417,"b":451,"v":0.03},{"c":41,"a":451,"b":485,"v":0.1},{"c":41,"a":485,"b":554,"v":0.04},{"c":41,"a":554,"b":576,"v":0.09},{"c":41,"a":576,"b":590,"v":0.105},{"c":45,"a":78,"b":80,"v":0.03},{"c":45,"a":85,"b":88,"v":0.02},{"c":45,"a":114,"b":117,"v":0.015},{"c":45,"a":176,"b":178,"v":0.1},{"c":45,"a":222,"b":225,"v":0.1},{"c":45,"a":229,"b":247,"v":0.105},{"c":45,"a":249,"b":251,"v":0.1},{"c":45,"a":295,"b":309,"v":0.095},{"c":45,"a":309,"b":325,"v":0.03},{"c":45,"a":327,"b":331,"v":0.09},{"c":45,"a":346,"b":347,"v":0.1},{"c":45,"a":368,"b":370,"v":0.09},{"c":45,"a":372,"b":374,"v":0.09},{"c":49,"a":139,"b":145,"v":0.06},{"c":49,"a":146,"b":148,"v":0.06},{"c":49,"a":148,"b":151,"v":0.085},{"c":49,"a":152,"b":155,"v":0.01},{"c":49,"a":155,"b":162,"v":0.03},{"c":49,"a":165,"b":168,"v":0.05},{"c":49,"a":174,"b":177,"v":0.09}],
"washer":[{"c":1,"a":148,"b":151,"v":0.02},{"c":1,"a":181,"b":183,"v":0.085},{"c":1,"a":188,"b":190,"v":0.08},{"c":1,"a":196,"b":198,"v":0.085},{"c":1,"a":215,"b":218,"v":0.08},{"c":1,"a":220,"b":221,"v":0.085},{"c":1,"a":261,"b":262,"v":0.07},{"c":1,"a":265,"b":277,"v":0.09},{"c":1,"a":279,"b":282,"v":0.08},{"c":1,"a":288,"b":290,"v":0.07},{"c":1,"a":333,"b":336,"v":0.09},{"c":1,"a":341,"b":343,"v":0.05},{"c":1,"a":352,"b":353,"v":0.085},{"c":1,"a":354,"b":358,"v":0.115},{"c":1,"a":360,"b":362,"v":0.085},{"c":7,"a":1,"b":40,"v":0.07},{"c":7,"a":40,"b":78,"v":0.09},{"c":7,"a":78,"b":81,"v":0.05},{"c":7,"a":85,"b":88,"v":0.05},{"c":7,"a":92,"b":96,"v":0.05},{"c":7,"a":102,"b":115,"v":0.05},{"c":7,"a":118,"b":122,"v":0.06},{"c":7,"a":123,"b":130,"v":0.06},{"c":7,"a":130,"b":139,"v":0.04},{"c":7,"a":177,"b":222,"v":0.05},{"c":7,"a":246,"b":250,"v":0.05},{"c":7,"a":250,"b":262,"v":0.05},{"c":7,"a":262,"b":315,"v":0.07},{"c":7,"a":315,"b":320,"v":0.08},{"c":7,"a":323,"b":328,"v":0.05},{"c":7,"a":329,"b":340,"v":0.07},{"c":7,"a":350,"b":355,"v":0.06},{"c":7,"a":362,"b":372,"v":0.05},{"c":7,"a":373,"b":384,"v":0.08},{"c":7,"a":390,"b":403,"v":0.09},{"c":7,"a":415,"b":451,"v":0.045},{"c":7,"a":485,"b":554,"v":0.05},{"c":7,"a":590,"b":598.5,"v":0.055},{"c":9,"a":139,"b":140,"v":0.05},{"c":9,"a":160,"b":163,"v":0.025},{"c":13,"a":40,"b":78,"v":0.035},{"c":13,"a":78,"b":80,"v":0.05},{"c":13,"a":80,"b":87,"v":0.125},{"c":13,"a":88,"b":92,"v":0.12},{"c":13,"a":96,"b":101,"v":0.125},{"c":13,"a":105,"b":107,"v":0.03},{"c":13,"a":110,"b":112,"v":0.03},{"c":13,"a":115,"b":117,"v":0.12},{"c":13,"a":120,"b":125,"v":0.03},{"c":13,"a":127,"b":130,"v":0.025},{"c":13,"a":176,"b":178,"v":0.12},{"c":13,"a":179,"b":180,"v":0.09},{"c":13,"a":222,"b":247,"v":0.125},{"c":13,"a":249,"b":251,"v":0.125},{"c":13,"a":263,"b":264,"v":0.04},{"c":13,"a":283,"b":290,"v":0.06},{"c":13,"a":291,"b":292,"v":0.07},{"c":13,"a":294,"b":319,"v":0.125},{"c":13,"a":324,"b":330,"v":0.11},{"c":13,"a":346,"b":347,"v":0.12},{"c":13,"a":352,"b":354,"v":0.05},{"c":13,"a":367,"b":372,"v":0.125},{"c":13,"a":373,"b":387,"v":0.1},{"c":13,"a":390,"b":398,"v":0.05},{"c":13,"a":398,"b":415,"v":0.125},{"c":23,"a":4,"b":7,"v":0.08},{"c":23,"a":40,"b":78,"v":0.07},{"c":23,"a":78,"b":80,"v":0.05},{"c":23,"a":105,"b":107,"v":0.06},{"c":23,"a":108,"b":112,"v":0.06},{"c":23,"a":117,"b":122,"v":0.06},{"c":23,"a":124,"b":130,"v":0.05},{"c":23,"a":263,"b":264,"v":0.05},{"c":23,"a":284,"b":290,"v":0.04},{"c":23,"a":292,"b":293,"v":0.04},{"c":23,"a":354,"b":358,"v":0.02},{"c":23,"a":362,"b":364,"v":0.05},{"c":23,"a":390,"b":396,"v":0.04},{"c":26,"a":1,"b":40,"v":0.07},{"c":26,"a":60,"b":75,"v":0.02},{"c":26,"a":92,"b":96,"v":0.05},{"c":26,"a":101,"b":103,"v":0.05},{"c":26,"a":105,"b":111,"v":0.05},{"c":26,"a":119,"b":130,"v":0.03},{"c":26,"a":130,"b":139,"v":0.05},{"c":26,"a":177,"b":179,"v":0.05},{"c":26,"a":181,"b":193,"v":0.05},{"c":26,"a":195,"b":222,"v":0.05},{"c":26,"a":247,"b":250,"v":0.05},{"c":26,"a":251,"b":263,"v":0.06},{"c":26,"a":265,"b":277,"v":0.045},{"c":26,"a":279,"b":283,"v":0.05},{"c":26,"a":291,"b":292,"v":0.05},{"c":26,"a":320,"b":323.5,"v":0.08},{"c":26,"a":330,"b":340,"v":0.04},{"c":26,"a":342,"b":346,"v":0.05},{"c":26,"a":352,"b":358,"v":0.03},{"c":26,"a":358,"b":365,"v":0.05},{"c":26,"a":387,"b":389,"v":0.07},{"c":26,"a":415,"b":451,"v":0.09},{"c":26,"a":451,"b":485,"v":0.06},{"c":26,"a":485,"b":554,"v":0.085},{"c":26,"a":554,"b":576,"v":0.09},{"c":26,"a":576,"b":590,"v":0.03},{"c":26,"a":590,"b":598.5,"v":0.07},{"c":28,"a":139,"b":140,"v":0.05},{"c":28,"a":141,"b":143,"v":0.06},{"c":28,"a":145,"b":147,"v":0.06},{"c":28,"a":148,"b":151,"v":0.1},{"c":28,"a":165,"b":166,"v":0.06},{"c":28,"a":172,"b":175,"v":0.1},{"c":28,"a":361,"b":362,"v":0.04},{"c":30,"a":139,"b":147,"v":0.09},{"c":30,"a":147,"b":150,"v":0.05},{"c":30,"a":150,"b":172,"v":0.09},{"c":30,"a":172,"b":176,"v":0.08},{"c":40,"a":451,"b":485,"v":0.05},{"c":40,"a":554,"b":576,"v":0.015},{"c":40,"a":576,"b":590,"v":0.1},{"c":42,"a":85,"b":88,"v":0.085},{"c":42,"a":92,"b":95,"v":0.125},{"c":42,"a":101,"b":103,"v":0.12},{"c":42,"a":104,"b":106,"v":0.12},{"c":42,"a":108,"b":110,"v":0.12},{"c":42,"a":112,"b":114,"v":0.115},{"c":42,"a":119,"b":120,"v":0.12},{"c":42,"a":124,"b":126,"v":0.125},{"c":42,"a":128,"b":129,"v":0.12},{"c":42,"a":131,"b":138,"v":0.125},{"c":42,"a":181,"b":186,"v":0.11},{"c":42,"a":186,"b":192,"v":0.12},{"c":42,"a":194,"b":197,"v":0.115},{"c":42,"a":198,"b":203,"v":0.12},{"c":42,"a":204,"b":207,"v":0.12},{"c":42,"a":215,"b":220,"v":0.09},{"c":42,"a":220,"b":222,"v":0.12},{"c":42,"a":261,"b":263,"v":0.085},{"c":42,"a":265,"b":277,"v":0.08},{"c":42,"a":279,"b":283,"v":0.12},{"c":42,"a":288,"b":290,"v":0.1},{"c":42,"a":291,"b":293,"v":0.12},{"c":42,"a":312,"b":315,"v":0.09},{"c":42,"a":329,"b":331,"v":0.06},{"c":42,"a":331,"b":336,"v":0.12},{"c":42,"a":338,"b":344,"v":0.125},{"c":42,"a":352,"b":353,"v":0.12},{"c":42,"a":354,"b":358,"v":0.04},{"c":42,"a":358,"b":362,"v":0.12},{"c":42,"a":364,"b":368,"v":0.115}]},
"vconcat":[
{"width":1198,"height":86,"data":{"name":"power"},"view":{"stroke":"#111","strokeWidth":1},"mark":{"type":"line","strokeWidth":2,"clip":true},"encoding":{"x":{"field":"x","type":"quantitative","scale":{"domain":[-0.5,598.5],"nice":false,"zero":false},"axis":{"title":null,"values":[0,100,200,300,400,500],"labels":false,"grid":true,"gridColor":"#b8b8b8","domain":false,"zindex":0}},"y":{"field":"w","type":"quantitative","scale":{"domain":[-122,3060],"nice":false,"zero":false},"axis":{"title":"Watt","titleAngle":0,"titleAlign":"left","titleBaseline":"alphabetic","titleX":-53,"titleY":8,"values":[0,2000],"grid":true,"gridColor":"#b8b8b8","domain":false,"zindex":0}},"color":{"field":"s","type":"nominal","scale":{"domain":["Input window","Ground truth"],"range":["#1f77b4","#ff7f0e"]},"legend":{"orient":"none","legendX":1013,"legendY":8,"title":null,"symbolType":"M-1.4,0H1.4","symbolSize":676,"symbolOffset":9,"symbolStrokeWidth":2,"fillColor":"rgba(255,255,255,0.85)","strokeColor":"#d0d0d0","cornerRadius":4,"padding":3,"rowPadding":0,"labelFontSize":18.5,"labelOffset":16}}}},
{"width":1198,"height":87,"title":{"text":"Kettle","offset":-61},"data":{"name":"kettle"},"view":{"fill":"#000","stroke":null},"mark":{"type":"rect","height":1.9},"encoding":{"x":{"field":"a","type":"quantitative","scale":{"domain":[-0.5,598.5],"nice":false,"zero":false},"axis":{"title":null,"values":[0,100,200,300,400,500],"labels":false,"grid":true,"gridColor":"#999","domain":false,"zindex":1}},"x2":{"field":"b"},"y":{"field":"c","type":"quantitative","scale":{"domain":[49.5,-0.5],"nice":false,"zero":false},"axis":{"title":"Channels","titleAngle":0,"titleAlign":"left","titleBaseline":"alphabetic","titleX":-61,"titleY":-11,"values":[0,25],"grid":true,"gridColor":"#999","domainColor":"#777","zindex":1}},"color":{"field":"v","type":"quantitative","scale":{"scheme":"magma","domain":[0,0.128]},"legend":{"orient":"none","legendX":1210,"legendY":-61,"title":null,"direction":"vertical","gradientLength":670,"gradientThickness":35,"gradientStrokeColor":"#777","gradientStrokeWidth":1,"values":[0,0.02,0.04,0.06,0.08,0.1,0.12],"format":".2f","labelOffset":8}}}},
{"width":1198,"height":87,"title":{"text":"Microwave","offset":-3},"data":{"name":"microwave"},"view":{"fill":"#000","stroke":null},"mark":{"type":"rect","height":1.9},"encoding":{"x":{"field":"a","type":"quantitative","scale":{"domain":[-0.5,598.5],"nice":false,"zero":false},"axis":{"title":null,"values":[0,100,200,300,400,500],"labels":false,"grid":true,"gridColor":"#999","domain":false,"zindex":1}},"x2":{"field":"b"},"y":{"field":"c","type":"quantitative","scale":{"domain":[49.5,-0.5],"nice":false,"zero":false},"axis":{"title":null,"values":[0,25],"grid":true,"gridColor":"#999","domainColor":"#777","zindex":1}},"color":{"field":"v","type":"quantitative","scale":{"scheme":"magma","domain":[0,0.128]},"legend":null}}},
{"width":1198,"height":87,"title":{"text":"Fridge","offset":-2},"data":{"name":"fridge"},"view":{"fill":"#000","stroke":null},"mark":{"type":"rect","height":1.9},"encoding":{"x":{"field":"a","type":"quantitative","scale":{"domain":[-0.5,598.5],"nice":false,"zero":false},"axis":{"title":null,"values":[0,100,200,300,400,500],"labels":false,"grid":true,"gridColor":"#999","domain":false,"zindex":1}},"x2":{"field":"b"},"y":{"field":"c","type":"quantitative","scale":{"domain":[49.5,-0.5],"nice":false,"zero":false},"axis":{"title":null,"values":[0,25],"grid":true,"gridColor":"#999","domainColor":"#777","zindex":1}},"color":{"field":"v","type":"quantitative","scale":{"scheme":"magma","domain":[0,0.128]},"legend":null}}},
{"width":1198,"height":87,"title":{"text":"Dish Washer","offset":-4,"dx":2},"data":{"name":"dish"},"view":{"fill":"#000","stroke":null},"mark":{"type":"rect","height":1.9},"encoding":{"x":{"field":"a","type":"quantitative","scale":{"domain":[-0.5,598.5],"nice":false,"zero":false},"axis":{"title":null,"values":[0,100,200,300,400,500],"labels":false,"grid":true,"gridColor":"#999","domain":false,"zindex":1}},"x2":{"field":"b"},"y":{"field":"c","type":"quantitative","scale":{"domain":[49.5,-0.5],"nice":false,"zero":false},"axis":{"title":null,"values":[0,25],"grid":true,"gridColor":"#999","domainColor":"#777","zindex":1}},"color":{"field":"v","type":"quantitative","scale":{"scheme":"magma","domain":[0,0.128]},"legend":null}}},
{"width":1198,"height":87,"title":{"text":"Washing Machine","offset":-4,"dx":8},"data":{"name":"washer"},"view":{"fill":"#000","stroke":null},"mark":{"type":"rect","height":1.9},"encoding":{"x":{"field":"a","type":"quantitative","scale":{"domain":[-0.5,598.5],"nice":false,"zero":false},"axis":{"title":null,"values":[0,100,200,300,400,500],"grid":true,"gridColor":"#999","domain":false,"zindex":1}},"x2":{"field":"b"},"y":{"field":"c","type":"quantitative","scale":{"domain":[49.5,-0.5],"nice":false,"zero":false},"axis":{"title":null,"values":[0,25],"grid":true,"gridColor":"#999","domainColor":"#777","zindex":1}},"color":{"field":"v","type":"quantitative","scale":{"scheme":"magma","domain":[0,0.128]},"legend":null}}}
]}
